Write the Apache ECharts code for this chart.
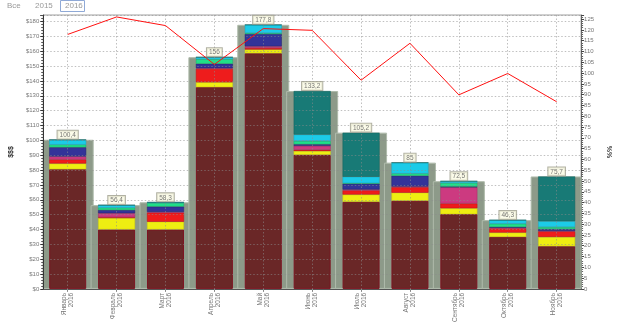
<!DOCTYPE html>
<html>
<head>
<meta charset="utf-8">
<script src="https://cdn.jsdelivr.net/npm/echarts@6/dist/echarts.min.js"></script>
<style>html,body{margin:0;padding:0;background:#fff;}#c{width:620px;height:325px;}</style>
</head>
<body>
<div id="c"></div>
<script>
const categories = ['Январь','Февраль','Март','Апрель','Май','Июнь','Июль','Август','Сентябрь','Октябрь','Ноябрь'];
const year = '2016';
const maroon  = [80.5, 40.0, 40.0, 135.8, 158.6, 90.3, 58.6, 59.3, 50.3, 35.0, 28.7];
const yellow  = [3.9, 7.7, 5.2, 3.3, 2.6, 2.6, 4.9, 5.5, 4.0, 2.9, 6.3];
const red     = [2.7, 0.6, 6.0, 9.0, 1.0, 0.7, 2.8, 3.6, 3.2, 2.8, 3.7];
const magenta = [2.1, 2.6, 0.6, 0.5, 1.1, 2.7, 0.6, 0.6, 10.9, 0.5, 0.3];
const blue    = [6.1, 2.2, 3.6, 3.0, 8.3, 1.0, 3.8, 7.1, 0.5, 0.5, 1.3];
const green   = [1.8, 1.5, 2.4, 3.0, 0.6, 2.2, 0.5, 1.5, 2.4, 2.1, 1.3];
const cyan    = [3.3, 1.8, 0.5, 1.4, 5.6, 4.4, 4.3, 7.4, 1.2, 2.5, 4.0];
const teal    = [0, 0, 0, 0, 0, 29.3, 29.7, 0, 0, 0, 30.1];
const totals  = [100.4, 56.4, 58.3, 156, 177.8, 133.2, 105.2, 85, 72.5, 46.3, 75.7];
const percent = [117.9, 126.0, 122.0, 104.0, 120.6, 119.8, 96.7, 113.8, 89.9, 99.8, 86.7];
const buttons = ['Все', '2015', '2016'];

const FONT = 'Liberation Sans';
const layers = [
  ['maroon', maroon, '#6a2727', '#7d1422'],
  ['yellow', yellow, '#eeee12', '#c8c810'],
  ['red', red, '#ee1c1c', '#c81010'],
  ['magenta', magenta, '#cc3a80', '#a82a66'],
  ['blue', blue, '#333399', '#22226e'],
  ['green', green, '#20e088', '#18b06a'],
  ['cyan', cyan, '#1ccbe8', '#18a8c0'],
  ['teal', teal, '#187a76', '#12605c']
];

const chart = echarts.init(document.getElementById('c'), null, {renderer: 'canvas'});
const series = [{
  name: 'bg', type: 'bar', xAxisIndex: 1, yAxisIndex: 0, data: totals,
  barWidth: 52, z: 1,
  itemStyle: {color: '#8d9a89', borderColor: '#afbbab', borderWidth: 1},
  silent: true
}];
layers.forEach(function (l) {
  series.push({
    name: l[0], type: 'bar', stack: 'a', xAxisIndex: 0, yAxisIndex: 0,
    data: l[1], barWidth: 37, z: 2,
    itemStyle: {color: l[2], borderColor: l[3], borderWidth: l[0] === 'maroon' ? 1 : 0.5},
    silent: true
  });
});
series.push({
  name: 'pct', type: 'line', xAxisIndex: 0, yAxisIndex: 1, data: percent,
  showSymbol: false, symbol: 'none', z: 5,
  lineStyle: {color: '#ff1010', width: 1}, silent: true
});
series.push({
  name: 'lbl', type: 'scatter', xAxisIndex: 0, yAxisIndex: 0, data: totals,
  symbolSize: 0, z: 6, silent: true,
  label: {
    show: true, position: 'top', distance: 1,
    formatter: function (p) { return String(p.value).replace('.', ','); },
    fontFamily: FONT, fontSize: 6.5, color: '#555',
    backgroundColor: '#fafae4', borderColor: '#9d9d8c', borderWidth: 1,
    padding: [1, 2, 0, 2], lineHeight: 7
  }
});

chart.setOption({
  animation: false,
  grid: {left: 26, right: 23, top: 15, bottom: 29, show: true, borderColor: '#a0a0a0', borderWidth: 1, backgroundColor: 'transparent'},
  graphic: [
    {type: 'text', left: 7, top: 2, style: {text: buttons[0], fontFamily: FONT, fontSize: 8, fill: '#999'}},
    {type: 'text', left: 35, top: 2, style: {text: buttons[1], fontFamily: FONT, fontSize: 8, fill: '#999'}},
    {type: 'rect', shape: {x: 60.5, y: 0.5, width: 24, height: 11}, style: {fill: '#fff', stroke: '#8fa9d6', lineWidth: 1}},
    {type: 'text', left: 65, top: 2, style: {text: buttons[2], fontFamily: FONT, fontSize: 8, fill: '#999'}}
  ],
  xAxis: [{
    type: 'category', data: categories, z: 3,
    axisLine: {lineStyle: {color: '#555'}},
    axisTick: {show: true, alignWithLabel: true, length: 3, lineStyle: {color: '#888'}},
    splitLine: {show: true, alignWithLabel: true, lineStyle: {color: 'rgba(140,140,140,0.55)', type: [1.5, 2], width: 1}},
    axisLabel: {
      rotate: 90, margin: 4, fontFamily: FONT, fontSize: 6.5, lineHeight: 7, color: '#777',
      formatter: function (v) { return v + '\n' + year; }
    }
  }, {
    type: 'category', data: categories, show: false
  }],
  yAxis: [{
    type: 'value', min: 0, max: 184.4, interval: 10, z: 3,
    name: '$$$', nameLocation: 'middle', nameGap: 21, nameRotate: 90,
    nameTextStyle: {fontFamily: FONT, fontSize: 7, fontWeight: 'bold', color: '#333'},
    axisLine: {show: true, lineStyle: {color: '#333'}},
    axisTick: {show: true, length: 3, lineStyle: {color: '#333'}},
    minorTick: {show: true, splitNumber: 5, length: 2, lineStyle: {color: '#555'}},
    splitLine: {show: true, lineStyle: {color: 'rgba(140,140,140,0.55)', type: [1.5, 2], width: 1}},
    axisLabel: {showMaxLabel: false, margin: 4, fontFamily: FONT, fontSize: 6, color: '#777', formatter: function (v) { return '$' + v; }}
  }, {
    type: 'value', min: 0, max: 126.9, interval: 5, position: 'right',
    name: '%%', nameLocation: 'middle', nameGap: 17, nameRotate: -90,
    nameTextStyle: {fontFamily: FONT, fontSize: 7, fontWeight: 'bold', color: '#333'},
    axisLine: {show: true, lineStyle: {color: '#666'}},
    axisTick: {show: true, length: 3, lineStyle: {color: '#444'}},
    minorTick: {show: true, splitNumber: 5, length: 2, lineStyle: {color: '#666'}},
    splitLine: {show: false},
    axisLabel: {showMaxLabel: false, margin: 3, fontFamily: FONT, fontSize: 6, color: '#777'}
  }],
  series: series
});
</script>
</body>
</html>
